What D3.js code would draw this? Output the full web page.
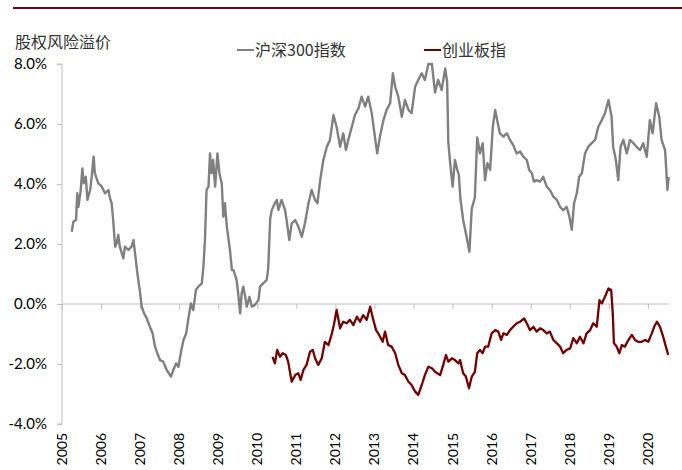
<!DOCTYPE html>
<html>
<head>
<meta charset="utf-8">
<script src="https://cdnjs.cloudflare.com/ajax/libs/d3/7.8.5/d3.min.js"></script>
<style>
  body { margin: 0; background: #fff; }
  svg { display: block; }
</style>
</head>
<body>
<div id="chart"></div>
<script>
// Values (decimal year, % equity risk premium)
const yearTicks = [2005, 2006, 2007, 2008, 2009, 2010, 2011, 2012, 2013, 2014, 2015, 2016, 2017, 2018, 2019, 2020];
const yTicks = [-4, -2, 0, 2, 4, 6, 8];
const seriesNames = ["沪深300指数", "创业板指"];

const hs300Dates = [
  2005.25, 2005.29, 2005.36, 2005.39, 2005.42, 2005.48, 2005.52, 2005.56, 2005.61, 2005.65,
  2005.72, 2005.76, 2005.81, 2005.84, 2005.93, 2006.02, 2006.10, 2006.19, 2006.23, 2006.27,
  2006.31, 2006.36, 2006.40, 2006.44, 2006.48, 2006.57, 2006.61, 2006.70, 2006.78, 2006.83,
  2006.87, 2006.93, 2007.00, 2007.04, 2007.10, 2007.17, 2007.25, 2007.32, 2007.38, 2007.44,
  2007.51, 2007.59, 2007.68, 2007.79, 2007.85, 2007.92, 2007.98, 2008.04, 2008.11, 2008.18,
  2008.23, 2008.30, 2008.36, 2008.43, 2008.49, 2008.58, 2008.62, 2008.66, 2008.70, 2008.75,
  2008.79, 2008.83, 2008.87, 2008.92, 2008.98, 2009.03, 2009.09, 2009.13, 2009.17, 2009.22,
  2009.30, 2009.35, 2009.39, 2009.47, 2009.51, 2009.56, 2009.60, 2009.64, 2009.69, 2009.73,
  2009.80, 2009.86, 2009.94, 2010.03, 2010.07, 2010.15, 2010.24, 2010.28, 2010.33, 2010.37,
  2010.41, 2010.45, 2010.50, 2010.54, 2010.62, 2010.71, 2010.75, 2010.82, 2010.88, 2010.97,
  2011.05, 2011.14, 2011.22, 2011.31, 2011.39, 2011.48, 2011.54, 2011.61, 2011.69, 2011.78,
  2011.86, 2011.95, 2012.03, 2012.12, 2012.20, 2012.27, 2012.33, 2012.42, 2012.50, 2012.59,
  2012.67, 2012.76, 2012.84, 2012.93, 2013.01, 2013.07, 2013.14, 2013.23, 2013.31, 2013.40,
  2013.47, 2013.53, 2013.61, 2013.70, 2013.78, 2013.87, 2013.95, 2014.04, 2014.12, 2014.21,
  2014.29, 2014.38, 2014.47, 2014.55, 2014.63, 2014.72, 2014.81, 2014.86, 2014.89, 2014.93,
  2015.00, 2015.06, 2015.12, 2015.16, 2015.20, 2015.27, 2015.34, 2015.43, 2015.49, 2015.57,
  2015.63, 2015.70, 2015.77, 2015.83, 2015.89, 2015.96, 2016.03, 2016.09, 2016.14, 2016.21,
  2016.30, 2016.39, 2016.47, 2016.55, 2016.64, 2016.73, 2016.81, 2016.90, 2016.96, 2017.03,
  2017.08, 2017.15, 2017.24, 2017.32, 2017.41, 2017.49, 2017.58, 2017.67, 2017.75, 2017.83,
  2017.92, 2017.99, 2018.05, 2018.11, 2018.18, 2018.24, 2018.31, 2018.39, 2018.47, 2018.56,
  2018.65, 2018.73, 2018.82, 2018.90, 2018.99, 2019.07, 2019.11, 2019.18, 2019.24, 2019.30,
  2019.37, 2019.46, 2019.54, 2019.63, 2019.71, 2019.80, 2019.88, 2019.97, 2020.05, 2020.12,
  2020.21, 2020.29, 2020.35, 2020.44, 2020.50, 2020.53
];
const hs300Values = [
  2.41, 2.74, 2.80, 3.69, 3.24, 3.80, 4.52, 4.02, 4.24, 3.47,
  3.80, 4.24, 4.91, 4.36, 4.02, 3.91, 3.69, 3.80, 3.52, 3.36,
  2.80, 1.91, 2.02, 2.30, 1.91, 1.52, 1.91, 1.80, 1.91, 2.13,
  1.69, 1.02, 0.36, -0.09, -0.31, -0.48, -0.76, -0.98, -1.42, -1.64,
  -1.87, -1.92, -2.20, -2.42, -2.20, -1.98, -2.09, -1.64, -1.20, -0.98,
  -0.53, 0.02, -0.20, 0.47, 0.58, 0.69, 1.24, 2.13, 3.80, 3.91,
  5.02, 4.36, 4.80, 3.91, 5.02, 4.36, 4.02, 2.91, 3.36, 2.58,
  1.80, 1.13, 1.13, 0.80, 0.36, -0.31, 0.36, 0.58, 0.24, -0.09,
  0.24, -0.09, -0.03, 0.13, 0.58, 0.69, 0.80, 1.20, 2.85, 3.13,
  3.24, 3.36, 3.47, 3.13, 3.47, 3.13, 2.80, 2.13, 2.69, 2.80,
  2.58, 2.24, 2.69, 3.36, 3.80, 3.47, 3.36, 4.13, 4.80, 5.24,
  5.47, 6.30, 5.91, 5.24, 5.69, 5.13, 5.47, 5.91, 6.30, 6.52,
  6.91, 6.58, 6.91, 6.36, 5.58, 5.02, 5.58, 6.13, 6.47, 6.69,
  7.69, 7.24, 6.91, 6.24, 6.80, 6.47, 6.36, 7.24, 7.47, 7.69,
  7.47, 8.00, 8.00, 7.05, 7.47, 7.13, 7.85, 7.40, 5.40, 4.80,
  3.91, 4.80, 4.47, 4.30, 3.50, 2.80, 2.36, 1.74, 3.18, 3.55,
  5.55, 5.02, 5.36, 4.13, 4.69, 4.47, 5.91, 6.47, 6.13, 5.69,
  5.58, 5.69, 5.47, 5.30, 5.02, 5.08, 4.91, 4.80, 4.47, 4.36,
  4.08, 4.13, 4.08, 4.24, 3.91, 3.80, 3.58, 3.47, 3.24, 3.13,
  3.24, 2.91, 2.47, 3.36, 3.69, 4.24, 4.36, 5.02, 5.24, 5.36,
  5.47, 5.91, 6.13, 6.36, 6.80, 6.24, 5.24, 4.80, 4.13, 5.24,
  5.47, 5.02, 5.47, 5.36, 5.24, 5.13, 5.36, 4.91, 6.13, 5.69,
  6.69, 6.24, 5.47, 5.13, 3.80, 4.24
];

const cybDates = [
  2010.39, 2010.45, 2010.51, 2010.58, 2010.65, 2010.73, 2010.79, 2010.88, 2010.97, 2011.05,
  2011.11, 2011.18, 2011.26, 2011.35, 2011.42, 2011.48, 2011.56, 2011.65, 2011.73, 2011.82,
  2011.90, 2011.96, 2012.03, 2012.12, 2012.20, 2012.29, 2012.37, 2012.46, 2012.55, 2012.63,
  2012.71, 2012.80, 2012.89, 2012.97, 2013.04, 2013.12, 2013.21, 2013.27, 2013.35, 2013.44,
  2013.53, 2013.61, 2013.70, 2013.78, 2013.87, 2013.95, 2014.04, 2014.12, 2014.21, 2014.29,
  2014.38, 2014.47, 2014.55, 2014.68, 2014.76, 2014.83, 2014.89, 2014.98, 2015.06, 2015.15,
  2015.19, 2015.27, 2015.34, 2015.42, 2015.49, 2015.57, 2015.63, 2015.70, 2015.77, 2015.83,
  2015.91, 2016.00, 2016.09, 2016.17, 2016.24, 2016.30, 2016.39, 2016.47, 2016.55, 2016.64,
  2016.73, 2016.83, 2016.90, 2016.98, 2017.07, 2017.15, 2017.24, 2017.32, 2017.41, 2017.49,
  2017.58, 2017.67, 2017.75, 2017.83, 2017.92, 2018.01, 2018.09, 2018.18, 2018.26, 2018.35,
  2018.43, 2018.52, 2018.60, 2018.69, 2018.76, 2018.82, 2018.90, 2018.99, 2019.06, 2019.10,
  2019.13, 2019.20, 2019.27, 2019.33, 2019.41, 2019.50, 2019.59, 2019.67, 2019.75, 2019.84,
  2019.93, 2020.01, 2020.10, 2020.16, 2020.23, 2020.31, 2020.39, 2020.46, 2020.52
];
const cybValues = [
  -1.76, -1.98, -1.53, -1.76, -1.64, -1.70, -1.92, -2.59, -2.37, -2.31,
  -2.53, -2.20, -2.03, -1.59, -1.53, -1.81, -2.03, -1.81, -1.26, -1.37,
  -1.03, -0.70, -0.20, -0.81, -0.59, -0.64, -0.53, -0.70, -0.42, -0.59,
  -0.37, -0.53, -0.09, -0.53, -0.87, -1.03, -1.26, -0.92, -1.37, -1.42,
  -1.64, -2.03, -2.31, -2.37, -2.59, -2.70, -2.92, -3.03, -2.70, -2.37,
  -2.09, -2.14, -2.26, -2.37, -2.03, -1.70, -1.92, -1.81, -1.87, -1.98,
  -1.87, -2.31, -2.42, -2.81, -2.42, -2.26, -1.64, -1.53, -1.64, -1.42,
  -1.42, -0.98, -0.87, -0.92, -1.20, -0.98, -1.03, -0.87, -0.76, -0.64,
  -0.59, -0.48, -0.64, -0.87, -0.76, -0.92, -0.81, -0.87, -0.98, -0.92,
  -1.20, -1.31, -1.42, -1.64, -1.53, -1.48, -1.14, -1.31, -1.09, -1.31,
  -0.98, -0.87, -0.64, -0.76, 0.13, 0.02, 0.24, 0.52, 0.47, -0.31,
  -1.31, -1.42, -1.64, -1.37, -1.42, -1.20, -1.03, -1.20, -1.26, -1.26,
  -1.20, -1.26, -0.98, -0.76, -0.59, -0.76, -1.09, -1.42, -1.70
];

const width = 682;
const height = 470;
const margin = { top: 64, right: 13, bottom: 46, left: 62 };
const gray = "#808080";
const maroon = "#700000";
const axisColor = "#bfbfbf";

const svg = d3
  .select("#chart")
  .append("svg")
  .attr("width", width)
  .attr("height", height)
  .style("background", "#fff");

/*
 * ========================================================================
 *  Scales
 * ========================================================================
 */
const x = d3
  .scaleLinear()
  .domain([2005, 2020.54])
  .range([margin.left, width - margin.right]);

const y = d3
  .scaleLinear()
  .domain([-4, 8])
  .range([height - margin.bottom, margin.top]);

const hs300 = hs300Dates.map((d, i) => ({ t: d, v: hs300Values[i] }));
const cyb = cybDates.map((d, i) => ({ t: d, v: cybValues[i] }));

/*
 * ========================================================================
 *  Header
 * ========================================================================
 */
svg
  .append("line")
  .attr("x1", 13)
  .attr("x2", width)
  .attr("y1", 8)
  .attr("y2", 8)
  .attr("stroke", "#6b0a0a")
  .attr("stroke-width", 2);

svg
  .append("text")
  .attr("x", 15)
  .attr("y", 48)
  .style("font-family", '"Noto Sans CJK SC", sans-serif')
  .style("font-size", "16px")
  .attr("fill", "#333")
  .text("股权风险溢价");

// Legend
const legend = svg
  .append("g")
  .selectAll("g")
  .data(seriesNames)
  .enter()
  .append("g")
  .attr("transform", (d, i) => `translate(${i === 0 ? 237 : 424}, 50)`);

legend
  .append("line")
  .attr("x1", 0)
  .attr("x2", 17)
  .attr("stroke", (d, i) => (i === 0 ? gray : maroon))
  .attr("stroke-width", 2);

legend
  .append("text")
  .attr("x", 18)
  .attr("y", 6)
  .style("font-family", '"Noto Sans CJK SC", sans-serif')
  .style("font-size", "16px")
  .attr("fill", "#333")
  .text((d) => d);

/*
 * ========================================================================
 *  Axes
 * ========================================================================
 */
const yAxis = svg
  .append("g")
  .attr("transform", `translate(${margin.left},0)`)
  .call(
    d3
      .axisLeft(y)
      .tickValues(yTicks)
      .tickSize(5)
      .tickPadding(10)
      .tickFormat((d) => d.toFixed(1) + "%")
  );
yAxis.select(".domain").attr("stroke", axisColor).attr("d", `M-5,${y(8)}H0V${y(-4)}H-5`);
yAxis.selectAll(".tick line").attr("stroke", axisColor);
yAxis
  .selectAll(".tick text")
  .style("font-family", "Lato, sans-serif")
  .style("font-size", "15px")
  .attr("fill", "#000");

// zero line with yearly ticks
const xAxis = svg
  .append("g")
  .attr("transform", `translate(0,${y(0)})`)
  .call(d3.axisBottom(x).tickValues(yearTicks).tickSize(5).tickFormat(""));
xAxis.select(".domain").attr("stroke", axisColor).attr("d", `M${x.range()[0]},0H${x.range()[1]}`);
xAxis.selectAll(".tick line").attr("stroke", axisColor);

// year labels at the bottom, rotated
svg
  .append("g")
  .selectAll("text")
  .data(yearTicks)
  .enter()
  .append("text")
  .attr("transform", (d) => `translate(${x(d)},${y(-4) + 9}) rotate(-90)`)
  .attr("text-anchor", "end")
  .attr("dy", "0.35em")
  .style("font-family", "Lato, sans-serif")
  .style("font-size", "14px")
  .attr("fill", "#000")
  .text((d) => d);

/*
 * ========================================================================
 *  Lines
 * ========================================================================
 */
const line = d3
  .line()
  .x((d) => x(d.t))
  .y((d) => y(d.v));

svg
  .append("path")
  .datum(hs300)
  .attr("fill", "none")
  .attr("stroke", gray)
  .attr("stroke-width", 2.4)
  .attr("stroke-linejoin", "round")
  .attr("d", line);

svg
  .append("path")
  .datum(cyb)
  .attr("fill", "none")
  .attr("stroke", maroon)
  .attr("stroke-width", 2.3)
  .attr("stroke-linejoin", "round")
  .attr("d", line);
</script>
</body>
</html>
